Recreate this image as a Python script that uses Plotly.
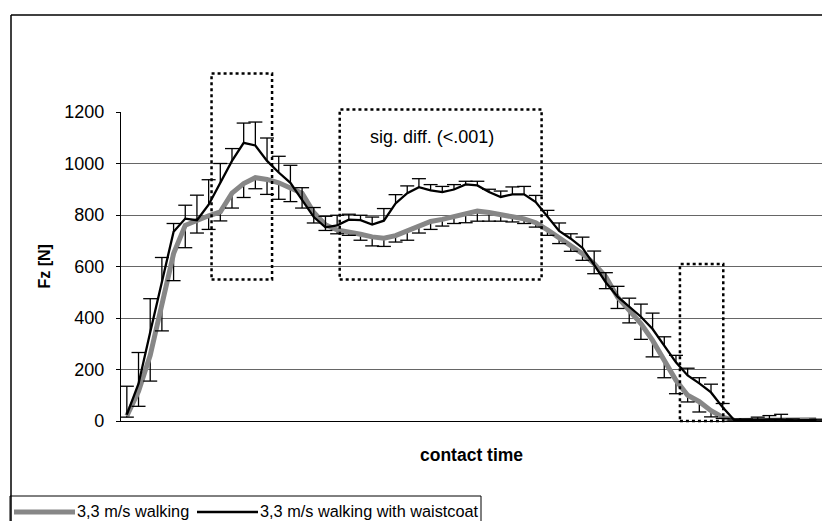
import plotly.graph_objects as go

# ---------------- data ----------------
n_points = 60
contact_idx = list(range(n_points))

walking = [20, 115, 255, 460, 650, 760, 780, 797, 812, 885, 922, 945, 938, 925, 905, 885, 810, 762,
           742, 735, 725, 715, 710, 720, 740, 760, 775, 783, 795, 808, 815, 810, 800, 793, 785, 770,
           742, 710, 683, 650, 611, 559, 481, 430, 378, 313, 236, 158, 100, 75, 40, 15, 2, 2, 3, 3,
           3, 2, 2, 5]
walking_err_minus = [5, 58, 100, 110, 105, 87, 50, 53, 35, 58, 54, 43, 58, 64, 53, 58, 41, 22,
                     15, 14, 23, 35, 32, 25, 38, 30, 31, 26, 28, 38, 39, 34, 24, 20, 18, 17,
                     21, 21, 24, 26, 39, 45, 44, 49, 61, 64, 68, 52, 26, 40, 24, 5, 2, 2, 2, 2,
                     2, 2, 2, 2]

waistcoat = [25, 145, 345, 545, 735, 786, 780, 840, 925, 1010, 1080, 1070, 1010, 965, 925, 860,
             792, 752, 760, 782, 780, 763, 778, 845, 885, 908, 896, 889, 899, 919, 915, 889, 870,
             880, 880, 850, 795, 738, 708, 672, 606, 538, 483, 443, 405, 357, 292, 228, 177, 146,
             111, 53, 3, 3, 5, 6, 6, 3, 2, 4]
waistcoat_err_plus = [110, 121, 130, 90, 32, 52, 97, 97, 75, 48, 77, 91, 89, 63, 68, 46, 37, 43,
                      39, 21, 19, 29, 47, 34, 28, 33, 22, 22, 19, 12, 16, 11, 23, 29, 31, 26, 23,
                      31, 19, 42, 54, 38, 40, 34, 49, 62, 35, 27, 28, 22, 32, 15, 5, 5, 10, 15,
                      20, 5, 3, 3]

y_ticks = [0, 200, 400, 600, 800, 1000, 1200]
series_names = ["3,3 m/s walking", "3,3 m/s walking with waistcoat"]
x_title = "contact time"
y_title = "Fz [N]"
sig_label = "sig. diff. (<.001)"

# highlighted regions: (first index, last index, low N, high N)
regions = [(7.25, 12.43, 550, 1350), (18.22, 35.5, 550, 1210), (47.34, 51.05, 0, 610)]

# ---------------- layout geometry ----------------
W, H = 822, 521
L, R, T, B = 121, 0, 112, 100
PW, PH = W - L - R, H - T - B
Y_MAX = 1200
FONT = "Liberation Sans, Arial, Helvetica, sans-serif"


def px_x(px):
    return (px - L) / PW


def px_y(py):
    return (H - B - py) / PH


fig = go.Figure()

# walking (grey, thick) with minus-only error bars
fig.add_trace(go.Scatter(
    x=contact_idx, y=walking, mode="lines", name=series_names[0],
    line=dict(color="#878787", width=5),
    error_y=dict(type="data", symmetric=False, array=[0] * n_points,
                 arrayminus=walking_err_minus, color="black", thickness=1.3, width=0),
    showlegend=False))

# waistcoat (black) with plus-only error bars
fig.add_trace(go.Scatter(
    x=contact_idx, y=waistcoat, mode="lines", name=series_names[1],
    line=dict(color="black", width=2.3),
    error_y=dict(type="data", symmetric=False, array=waistcoat_err_plus,
                 arrayminus=[0] * n_points, color="black", thickness=1.3, width=0),
    showlegend=False))

# error bar caps
fig.add_trace(go.Scatter(
    x=contact_idx, y=[v - e for v, e in zip(walking, walking_err_minus)], mode="markers",
    marker=dict(symbol="line-ew", size=10, line=dict(color="black", width=1.3)),
    showlegend=False, hoverinfo="skip"))
fig.add_trace(go.Scatter(
    x=contact_idx, y=[v + e for v, e in zip(waistcoat, waistcoat_err_plus)], mode="markers",
    marker=dict(symbol="line-ew", size=10, line=dict(color="black", width=1.3)),
    showlegend=False, hoverinfo="skip"))

shapes = []
# dotted boxes (paper refs so they can extend above the plot area)
for x0, x1, y0, y1 in regions:
    shapes.append(dict(type="rect", xref="paper", yref="paper",
                       x0=(x0 + 0.5) / n_points, x1=(x1 + 0.5) / n_points,
                       y0=y0 / Y_MAX, y1=y1 / Y_MAX,
                       line=dict(color="black", width=2.5, dash="dot")))

# outer chart border (cropped at right and bottom)
shapes.append(dict(type="line", xref="paper", yref="paper", x0=px_x(11), x1=px_x(11),
                   y0=px_y(15), y1=px_y(530), line=dict(color="black", width=1.5)))
shapes.append(dict(type="line", xref="paper", yref="paper", x0=px_x(11), x1=px_x(830),
                   y0=px_y(15), y1=px_y(15), line=dict(color="black", width=1.5)))

# legend box and samples
shapes.append(dict(type="rect", xref="paper", yref="paper", x0=px_x(10), x1=px_x(481),
                   y0=px_y(530), y1=px_y(496), line=dict(color="black", width=1)))
shapes.append(dict(type="line", xref="paper", yref="paper", x0=px_x(14), x1=px_x(75),
                   y0=px_y(512), y1=px_y(512), line=dict(color="#878787", width=5)))
shapes.append(dict(type="line", xref="paper", yref="paper", x0=px_x(197), x1=px_x(258),
                   y0=px_y(512), y1=px_y(512), line=dict(color="black", width=2.3)))

annotations = [
    dict(text=sig_label, xref="paper", yref="paper", x=px_x(432), y=px_y(137),
         showarrow=False, xanchor="center", yanchor="middle",
         font=dict(family=FONT, size=18, color="black")),
    dict(text="<b>" + y_title + "</b>", xref="paper", yref="paper", x=px_x(44), y=0.5,
         showarrow=False, textangle=-90, xanchor="center", yanchor="middle",
         font=dict(family=FONT, size=16, color="black")),
    dict(text="<b>" + x_title + "</b>", xref="paper", yref="paper", x=0.5, y=px_y(455),
         showarrow=False, xanchor="center", yanchor="middle",
         font=dict(family=FONT, size=17.5, color="black")),
    dict(text=series_names[0], xref="paper", yref="paper", x=px_x(75), y=px_y(511),
         showarrow=False, xanchor="left", yanchor="middle",
         font=dict(family=FONT, size=16.3, color="black")),
    dict(text=series_names[1], xref="paper", yref="paper", x=px_x(258), y=px_y(511),
         showarrow=False, xanchor="left", yanchor="middle",
         font=dict(family=FONT, size=16.3, color="black")),
]

fig.update_layout(
    width=W, height=H,
    margin=dict(l=L, r=R, t=T, b=B, pad=0),
    paper_bgcolor="white", plot_bgcolor="white",
    showlegend=False,
    shapes=shapes, annotations=annotations,
    xaxis=dict(range=[-0.5, n_points - 0.5], showticklabels=False, ticks="",
               showgrid=False, zeroline=False, showline=True, linecolor="black",
               linewidth=1.3, fixedrange=True),
    yaxis=dict(range=[0, Y_MAX], tickvals=y_ticks, ticktext=[str(v) for v in y_ticks],
               ticks="outside", ticklen=4, tickcolor="black", tickwidth=1,
               showgrid=True, gridcolor="#666666", gridwidth=1, zeroline=False,
               showline=True, linecolor="black", linewidth=1.3,
               tickfont=dict(family=FONT, size=18, color="black"),
               ticklabelstandoff=8, fixedrange=True),
)

fig.write_html("out.html", config={"displayModeBar": False},
               post_script="document.body.style.margin='0';")
